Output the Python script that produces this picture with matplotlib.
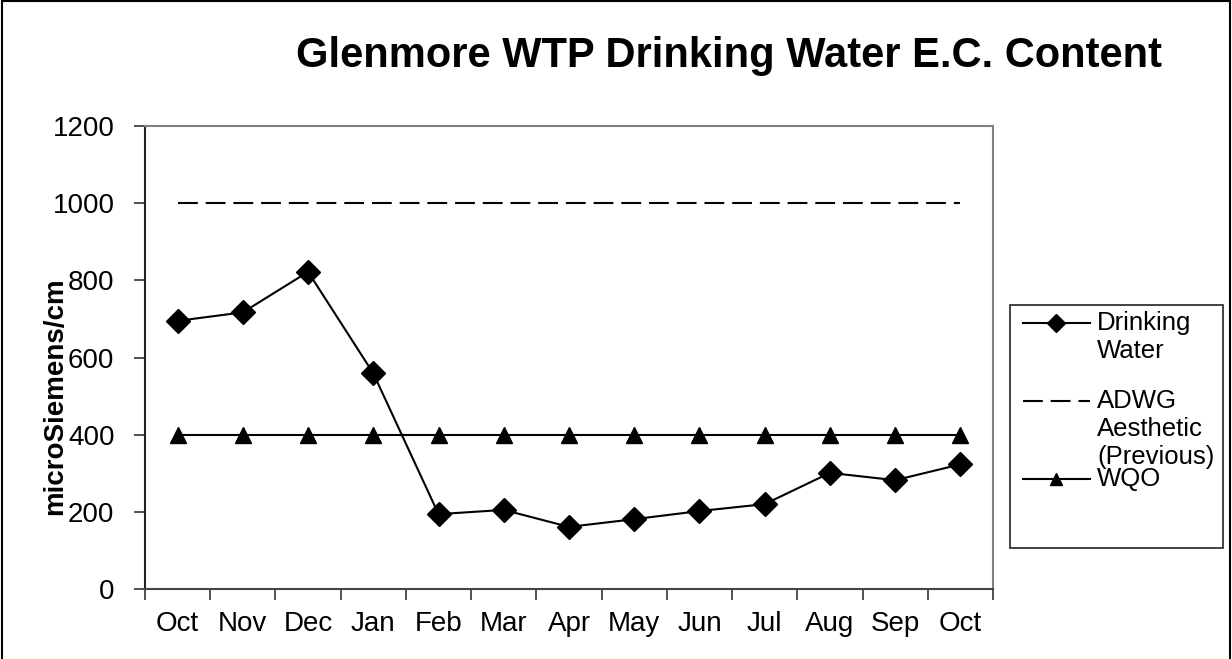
import matplotlib
matplotlib.use('Agg')
import matplotlib.pyplot as plt
from matplotlib.patches import Rectangle
from matplotlib.lines import Line2D
import numpy as np

plt.rcParams['font.family'] = ['Liberation Sans', 'DejaVu Sans']

# Datos
meses = ['Oct', 'Nov', 'Dec', 'Jan', 'Feb', 'Mar', 'Apr', 'May', 'Jun', 'Jul', 'Aug', 'Sep', 'Oct']
agua_potable = [695, 717, 822, 559, 194, 205, 161, 181, 202, 220, 301, 282, 323]
adwg_estetico = [1000] * 13
wqo = [400] * 13

titulo = 'Glenmore WTP Drinking Water E.C. Content'
etiqueta_y = 'microSiemens/cm'
etiquetas_leyenda = ['Drinking\nWater', 'ADWG\nAesthetic\n(Previous)', 'WQO']

W, H = 1232, 659
fig = plt.figure(figsize=(W / 100, H / 100), dpi=100)
ax = fig.add_axes([145 / W, 1 - 589 / H, 848 / W, 463 / H])

x = np.arange(len(meses))

estilo_agua = dict(color='black', lw=1.5, marker='D', markerfacecolor='black', markeredgecolor='black')
estilo_adwg = dict(color='black', lw=1.5, dashes=(9.5, 3.8))
estilo_wqo = dict(color='black', lw=1.5, marker='^', markerfacecolor='black', markeredgecolor='black')

ax.plot(x, agua_potable, markersize=12, zorder=4, **estilo_agua)
ax.plot(x, adwg_estetico, zorder=3, **estilo_adwg)
ax.plot(x, wqo, markersize=11, zorder=3, **estilo_wqo)

ax.set_xlim(-0.5, len(meses) - 0.5)
ax.set_ylim(0, 1200)
ax.set_yticks(np.arange(0, 1201, 200))

# ticks en los bordes de categorías, etiquetas centradas
ax.set_xticks(np.arange(-0.5, len(meses), 1.0))
ax.set_xticklabels([])
ax.set_xticks(x, minor=True)
ax.set_xticklabels(meses, minor=True)
ax.tick_params(axis='x', which='major', direction='out', length=8, width=1.2, color='#333333')
ax.tick_params(axis='x', which='minor', length=0, pad=16, labelsize=20)
ax.tick_params(axis='y', direction='out', length=8, width=1.2, color='#333333', pad=14, labelsize=20)

for lado in ['top', 'right']:
    ax.spines[lado].set_color('#808080')
    ax.spines[lado].set_linewidth(1.5)
ax.spines['left'].set_color('#222222')
ax.spines['bottom'].set_color('#444444')
ax.spines['left'].set_linewidth(1.5)
ax.spines['bottom'].set_linewidth(1.5)

fig.text(729 / W, 1 - 56 / H, titulo, ha='center', va='center', fontsize=30, fontweight='bold')
fig.text(55 / W, 1 - 396 / H, etiqueta_y, ha='center', va='center', rotation=90,
         fontsize=20, fontweight='bold')

# Leyenda al estilo Excel: ranuras iguales, símbolo alineado con la primera línea
fig.patches.append(Rectangle((1010 / W, 1 - 548 / H), 213 / W, 243 / H, transform=fig.transFigure,
                             fill=False, edgecolor='#222222', lw=1.2))
estilos = [(estilo_agua, 9), (estilo_adwg, None), (estilo_wqo, 9)]
for i, (etq, (est, ms)) in enumerate(zip(etiquetas_leyenda, estilos)):
    yy = 1 - (323 + 78 * i) / H
    kw = dict(est)
    if ms:
        kw['markersize'] = ms
        kw['markevery'] = [1]
    fig.lines.append(Line2D([1023 / W, 1056 / W, 1090 / W], [yy, yy, yy],
                            transform=fig.transFigure, **kw))
    fig.text(1097 / W, yy + 12 / H, etq, ha='left', va='top', fontsize=18.5, linespacing=1.2)

fig.patches.append(Rectangle((0.002, -0.01), 0.996, 1.008, transform=fig.transFigure,
                             fill=False, edgecolor='black', lw=1.5))

fig.savefig('out.png', dpi=100)
